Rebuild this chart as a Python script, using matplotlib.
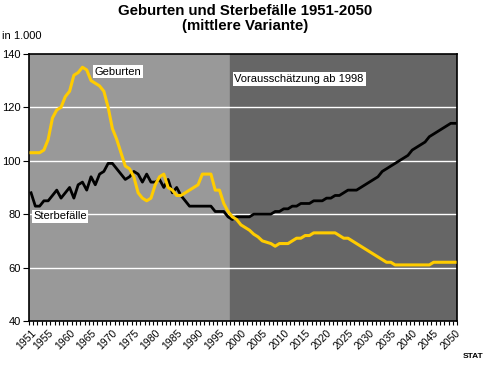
import numpy as np
import matplotlib
matplotlib.use("Agg")
import matplotlib.pyplot as plt

plt.rcParams['font.family'] = ['Liberation Sans', 'DejaVu Sans']

# Daten (in 1.000)
years = list(range(1951, 2051))
geburten = [103, 103, 103, 104, 108, 116, 119, 120, 124, 126,
            132, 133, 135, 134, 130, 129, 128, 126, 120, 112,
            108, 103, 98, 97, 94, 88, 86, 85, 86, 91,
            94, 95, 90, 89, 87, 87, 88, 89, 90, 91,
            95, 95, 95, 89, 89, 84, 81,
            79, 78, 76, 75, 74, 72.5, 71.5, 70, 69.5, 69,
            68, 69, 69, 69, 70, 71, 71, 72, 72, 73,
            73, 73, 73, 73, 73, 72, 71, 71, 70, 69,
            68, 67, 66, 65, 64, 63, 62, 62, 61, 61,
            61, 61, 61, 61, 61, 61, 61, 62, 62, 62, 62, 62, 62]
sterbefaelle = [88, 83, 83, 85, 85, 87, 89, 86, 88, 90,
                86, 91, 92, 89, 94, 91, 95, 96, 99, 99,
                97, 95, 93, 94, 96, 95, 92, 95, 92, 92,
                93, 90, 93, 88, 90, 87, 85, 83, 83, 83,
                83, 83, 83, 81, 81, 81, 79,
                78, 79, 79, 79, 79, 80, 80, 80, 80, 80,
                81, 81, 82, 82, 83, 83, 84, 84, 84, 85,
                85, 85, 86, 86, 87, 87, 88, 89, 89, 89,
                90, 91, 92, 93, 94, 96, 97, 98, 99, 100,
                101, 102, 104, 105, 106, 107, 109, 110, 111, 112, 113, 114, 114]
label_years = [1951] + list(range(1955, 2051, 5))
proj_start = 1998

x = np.arange(len(years))
split = years.index(proj_start) - 0.5

fig = plt.figure(figsize=(4.9, 3.69), dpi=100)
ax = fig.add_axes([0.059, 0.130, 0.874, 0.724])

ax.axvspan(-0.5, split, color='#999999', zorder=0)
ax.axvspan(split, len(years) - 0.5, color='#666666', zorder=0)
for v in [60, 80, 100, 120]:
    ax.axhline(v, color='white', lw=1, zorder=1)

ax.plot(x, sterbefaelle, color='black', lw=2, zorder=3)
ax.plot(x, geburten, color='#FFCC00', lw=2.2, zorder=4)

ax.set_xlim(-0.5, len(years) - 0.5)
ax.set_ylim(40, 140)
ax.set_yticks([40, 60, 80, 100, 120, 140])
ax.tick_params(axis='y', labelsize=8, length=4, direction='out', pad=2)

ax.set_xticks([years.index(y) for y in label_years])
ax.set_xticklabels([str(y) for y in label_years], rotation=45, ha='right',
                   rotation_mode='anchor', fontsize=7.5)
ax.tick_params(axis='x', length=0, pad=5)
ax.set_xticks(np.arange(len(years) + 1) - 0.5, minor=True)
ax.tick_params(axis='x', which='minor', length=3, direction='out', width=0.8)

for s in ax.spines.values():
    s.set_color('black')
    s.set_linewidth(1.2)

box = dict(facecolor='white', edgecolor='none', pad=1.2)
ax.text(years.index(1966) - 0.1, 133.3, 'Geburten', fontsize=8, va='center', bbox=box)
ax.text(0.5, 79.2, 'Sterbefälle', fontsize=8, va='center', bbox=box, zorder=5)
ax.text(years.index(1998) + 0.5, 130.6, 'Vorausschätzung ab 1998', fontsize=8,
        va='center', bbox=box)

fig.text(0.5, 0.99, 'Geburten und Sterbefälle 1951-2050\n(mittlere Variante)',
         ha='center', va='top', fontsize=10.8, fontweight='bold', linespacing=1.1)
fig.text(0.004, 0.89, 'in 1.000', fontsize=8, va='bottom')
fig.text(0.965, 0.03, 'STAT', fontsize=6, fontweight='bold', ha='center')

fig.savefig('out.png', dpi=100)
